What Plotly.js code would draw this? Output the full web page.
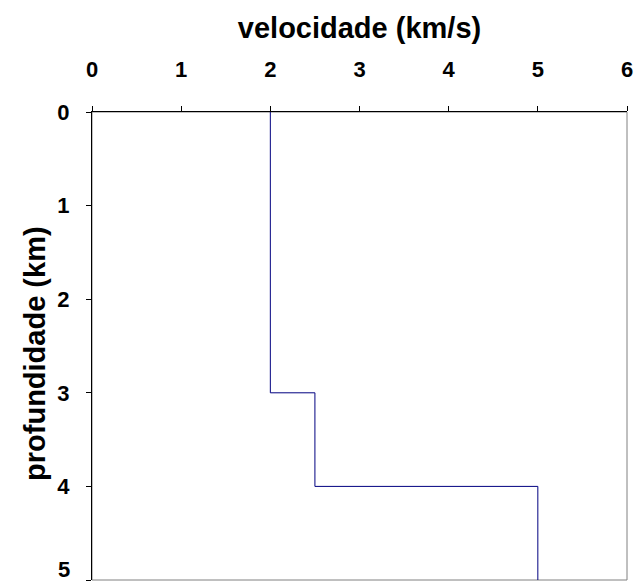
<!DOCTYPE html>
<html><head><meta charset="utf-8">
<script src="https://cdn.plot.ly/plotly-3.0.1.min.js"></script>
<style>body{margin:0;background:#fff}#c{width:634px;height:587px}</style>
</head><body><div id="c"></div>
<script>
const velocity = [2, 2, 2.5, 2.5, 5, 5];
const depth = [0, 3, 3, 4, 4, 5];
const xTicks = [0, 1, 2, 3, 4, 5, 6];
const yTicks = [0, 1, 2, 3, 4, 5];
const yTickText = ['0', '1', '2', '3', '4', ''];
const lastYLabel = '5';
const xTitle = 'velocidade (km/s)';
const yTitle = 'profundidade (km)';

const fam = 'Liberation Sans, Arial, sans-serif';
const tickFont = {family: fam, size: 22, color: '#000', weight: 'bold'};
const titleFont = {family: fam, size: 29, color: '#000', weight: 'bold'};
Plotly.newPlot('c', [{
  x: velocity, y: depth, type: 'scatter', mode: 'lines',
  line: {color: '#000080', width: 1}, hoverinfo: 'skip'
}], {
  width: 634, height: 587,
  margin: {l: 92, r: 7, t: 112, b: 7},
  paper_bgcolor: '#fff', plot_bgcolor: '#fff',
  showlegend: false,
  xaxis: {
    side: 'top', range: [0, 6], tickvals: xTicks, ticktext: xTicks.map(String),
    showgrid: false, zeroline: false, showline: true, linecolor: '#000', linewidth: 1,
    ticks: 'outside', ticklen: 5, tickcolor: '#000', tickfont: tickFont, ticklabelstandoff: 20,
    title: {text: xTitle, font: titleFont, standoff: 10}
  },
  yaxis: {
    range: [5, 0], tickvals: yTicks, ticktext: yTickText,
    showgrid: false, zeroline: false, showline: true, linecolor: '#000', linewidth: 1,
    ticks: 'outside', ticklen: 5, tickcolor: '#000', tickfont: tickFont, ticklabelstandoff: 12
  },
  annotations: [
    {text: lastYLabel, xref: 'paper', yref: 'y', x: 0, y: yTicks[yTicks.length - 1],
     xanchor: 'right', yanchor: 'bottom', xshift: -20, yshift: -4, showarrow: false, font: tickFont},
    {text: yTitle, xref: 'paper', yref: 'paper', x: 0, y: 0.483, textangle: -90,
     xanchor: 'center', yanchor: 'middle', xshift: -57, showarrow: false, font: titleFont}
  ],
  shapes: [{type: 'rect', xref: 'paper', yref: 'paper', x0: 0, x1: 1, y0: 0, y1: 1,
    line: {color: '#808080', width: 1}, layer: 'below'}]
}, {displayModeBar: false});
</script></body></html>
